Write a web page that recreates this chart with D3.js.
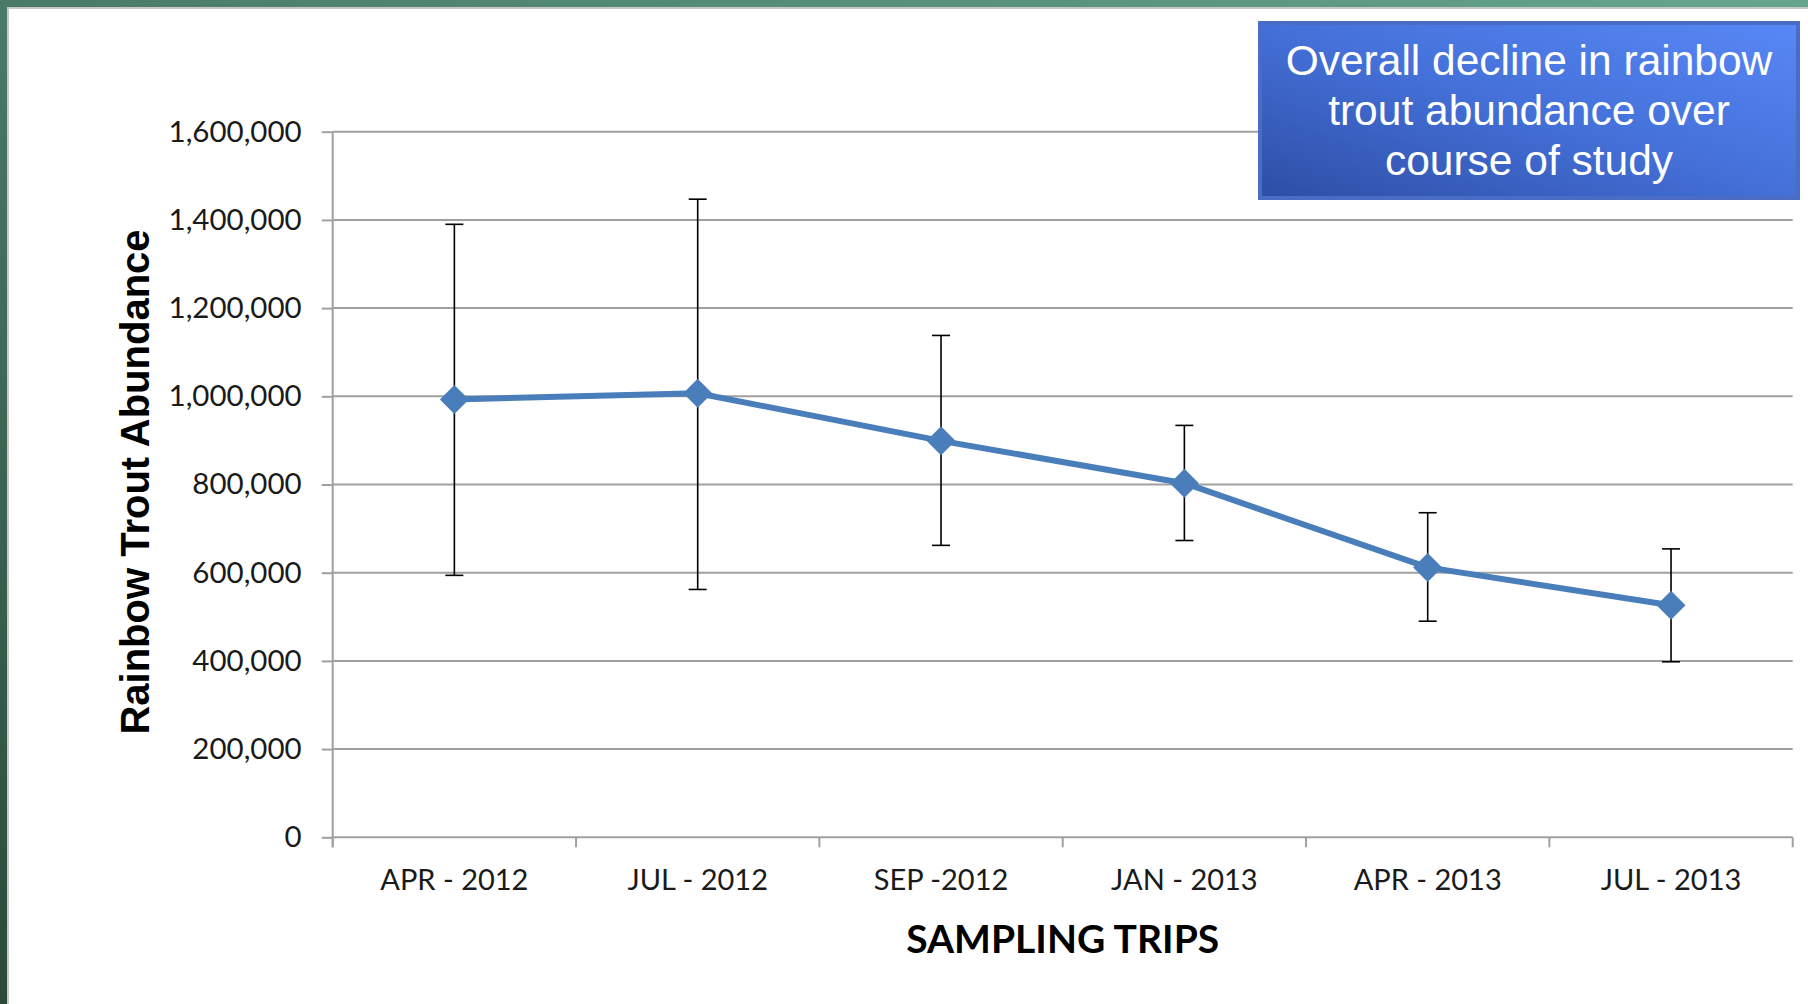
<!DOCTYPE html>
<html>
<head>
  <meta charset="utf-8">
  <style>
    body { margin: 0; background: #fff; }
    .tick text { font-family: Lato, "Open Sans", sans-serif; fill: #1a1a1a; }
    .axis path, .axis line { stroke: #a0a0a0; stroke-width: 2; fill: none; }
    .grid line { stroke: #a0a0a0; stroke-width: 2; }
  </style>
  <script src="https://d3js.org/d3.v7.min.js"></script>
</head>
<body>
<script>

  // sampling trips and estimated abundance (with error bar ends)
  var trips = ["APR - 2012", "JUL - 2012", "SEP -2012", "JAN - 2013", "APR - 2013", "JUL - 2013"];
  var abundance = [993000, 1007000, 899000, 803000, 612000, 526000];
  var upper = [1390000, 1447000, 1138000, 934000, 736000, 654000];
  var lower = [594000, 562000, 662000, 673000, 490000, 398000];
  var yTicks = [0, 200000, 400000, 600000, 800000, 1000000, 1200000, 1400000, 1600000];
  var calloutLines = ["Overall decline in rainbow", "trout abundance over", "course of study"];

  var W = 1808, H = 1004;
  var plot = {left: 332.7, right: 1792.7, top: 131.7, bottom: 837.3};

  var svg = d3.select("body").append("svg")
    .attr("width", W)
    .attr("height", H);

  var defs = svg.append("defs");

  var frameGrad = defs.append("linearGradient")
    .attr("id", "frameGrad")
    .attr("x1", "100%").attr("y1", "0%")
    .attr("x2", "0%").attr("y2", "100%");
  frameGrad.append("stop").attr("offset", "0%").attr("stop-color", "#66a58c");
  frameGrad.append("stop").attr("offset", "45%").attr("stop-color", "#4d7f6c");
  frameGrad.append("stop").attr("offset", "100%").attr("stop-color", "#2b4a3c");

  var boxGrad = defs.append("linearGradient")
    .attr("id", "boxGrad")
    .attr("x1", "0%").attr("y1", "100%")
    .attr("x2", "100%").attr("y2", "0%");
  boxGrad.append("stop").attr("offset", "0%").attr("stop-color", "#2e4ea6");
  boxGrad.append("stop").attr("offset", "50%").attr("stop-color", "#4470d8");
  boxGrad.append("stop").attr("offset", "100%").attr("stop-color", "#5888f6");

  // slide frame
  svg.append("rect")
    .attr("width", W).attr("height", H)
    .attr("fill", "url(#frameGrad)");
  svg.append("rect")
    .attr("x", 7).attr("y", 7)
    .attr("width", W - 7).attr("height", H - 7)
    .attr("fill", "#c8c8c8");
  svg.append("rect")
    .attr("x", 9).attr("y", 9)
    .attr("width", W - 9).attr("height", H - 9)
    .attr("fill", "#fff");

  var x = d3.scaleBand()
    .domain(trips)
    .range([plot.left, plot.right])
    .padding(0);

  var y = d3.scaleLinear()
    .domain([0, 1600000])
    .range([plot.bottom, plot.top]);

  // horizontal gridlines
  svg.append("g")
    .attr("class", "grid")
    .selectAll("line")
    .data(yTicks.slice(1))
    .enter().append("line")
    .attr("x1", plot.left)
    .attr("x2", plot.right)
    .attr("y1", function(d) { return y(d); })
    .attr("y2", function(d) { return y(d); });

  // y axis
  var yAxis = d3.axisLeft(y)
    .tickValues(yTicks)
    .tickFormat(d3.format(","))
    .tickSizeInner(11)
    .tickSizeOuter(0)
    .tickPadding(20);

  var gy = svg.append("g")
    .attr("class", "axis")
    .attr("transform", "translate(" + plot.left + ",0)")
    .call(yAxis);
  gy.selectAll(".tick text").attr("font-size", 29.5);
  gy.select(".domain").attr("d", "M0," + plot.top + "V" + (plot.bottom + 10));

  // x axis: labels at band centres, ticks at band edges
  var xAxis = d3.axisBottom(x)
    .tickSize(0)
    .tickPadding(32);

  var gx = svg.append("g")
    .attr("class", "axis")
    .attr("transform", "translate(0," + plot.bottom + ")")
    .call(xAxis);
  gx.selectAll(".tick text").attr("font-size", 29);
  gx.select(".domain").attr("d", "M" + plot.left + ",0H" + plot.right);

  var edges = trips.map(function(d) { return x(d); }).concat([x(trips[trips.length - 1]) + x.bandwidth()]);
  gx.selectAll(".edge")
    .data(edges)
    .enter().append("line")
    .attr("class", "edge")
    .attr("x1", function(d) { return d; })
    .attr("x2", function(d) { return d; })
    .attr("y1", 0)
    .attr("y2", 10);

  // axis titles
  svg.append("text")
    .attr("x", (plot.left + plot.right) / 2)
    .attr("y", 953)
    .attr("text-anchor", "middle")
    .attr("font-family", "Lato, sans-serif")
    .attr("font-weight", "bold")
    .attr("font-size", 39)
    .attr("fill", "#000")
    .text("SAMPLING TRIPS");

  svg.append("text")
    .attr("transform", "translate(149,482) rotate(-90)")
    .attr("text-anchor", "middle")
    .attr("font-family", "Liberation Sans, Arial, sans-serif")
    .attr("font-weight", "bold")
    .attr("font-size", 40)
    .attr("fill", "#000")
    .text("Rainbow Trout Abundance");

  var cx = function(d, i) { return x(trips[i]) + x.bandwidth() / 2; };

  // error bars
  var eb = svg.append("g")
    .attr("stroke", "#000")
    .attr("stroke-width", 1.6)
    .selectAll("g")
    .data(abundance)
    .enter().append("g");
  eb.append("line")
    .attr("x1", cx).attr("x2", cx)
    .attr("y1", function(d, i) { return y(upper[i]); })
    .attr("y2", function(d, i) { return y(lower[i]); });
  eb.append("line")
    .attr("x1", function(d, i) { return cx(d, i) - 9; })
    .attr("x2", function(d, i) { return cx(d, i) + 9; })
    .attr("y1", function(d, i) { return y(upper[i]); })
    .attr("y2", function(d, i) { return y(upper[i]); });
  eb.append("line")
    .attr("x1", function(d, i) { return cx(d, i) - 9; })
    .attr("x2", function(d, i) { return cx(d, i) + 9; })
    .attr("y1", function(d, i) { return y(lower[i]); })
    .attr("y2", function(d, i) { return y(lower[i]); });

  // series line
  var line = d3.line()
    .x(cx)
    .y(function(d) { return y(d); });

  svg.append("path")
    .datum(abundance)
    .attr("d", line)
    .attr("fill", "none")
    .attr("stroke", "#4a7ebb")
    .attr("stroke-width", 6)
    .attr("stroke-linejoin", "round");

  // diamond markers
  svg.selectAll(".marker")
    .data(abundance)
    .enter().append("path")
    .attr("class", "marker")
    .attr("transform", function(d, i) { return "translate(" + cx(d, i) + "," + y(d) + ")"; })
    .attr("d", "M0,-14.5L14.5,0L0,14.5L-14.5,0Z")
    .attr("fill", "#4a7ebb");

  // callout box
  var box = svg.append("g");
  box.append("rect")
    .attr("x", 1258).attr("y", 21)
    .attr("width", 542).attr("height", 179)
    .attr("fill", "#4a6cc4");
  box.append("rect")
    .attr("x", 1262).attr("y", 25)
    .attr("width", 534).attr("height", 171)
    .attr("fill", "url(#boxGrad)");
  box.selectAll("text")
    .data(calloutLines)
    .enter().append("text")
    .attr("x", 1529)
    .attr("y", function(d, i) { return 75 + i * 50; })
    .attr("text-anchor", "middle")
    .attr("font-family", "Liberation Sans, Arial, sans-serif")
    .attr("font-size", 42.5)
    .attr("fill", "#fff")
    .text(function(d) { return d; });

</script>
</body>
</html>
